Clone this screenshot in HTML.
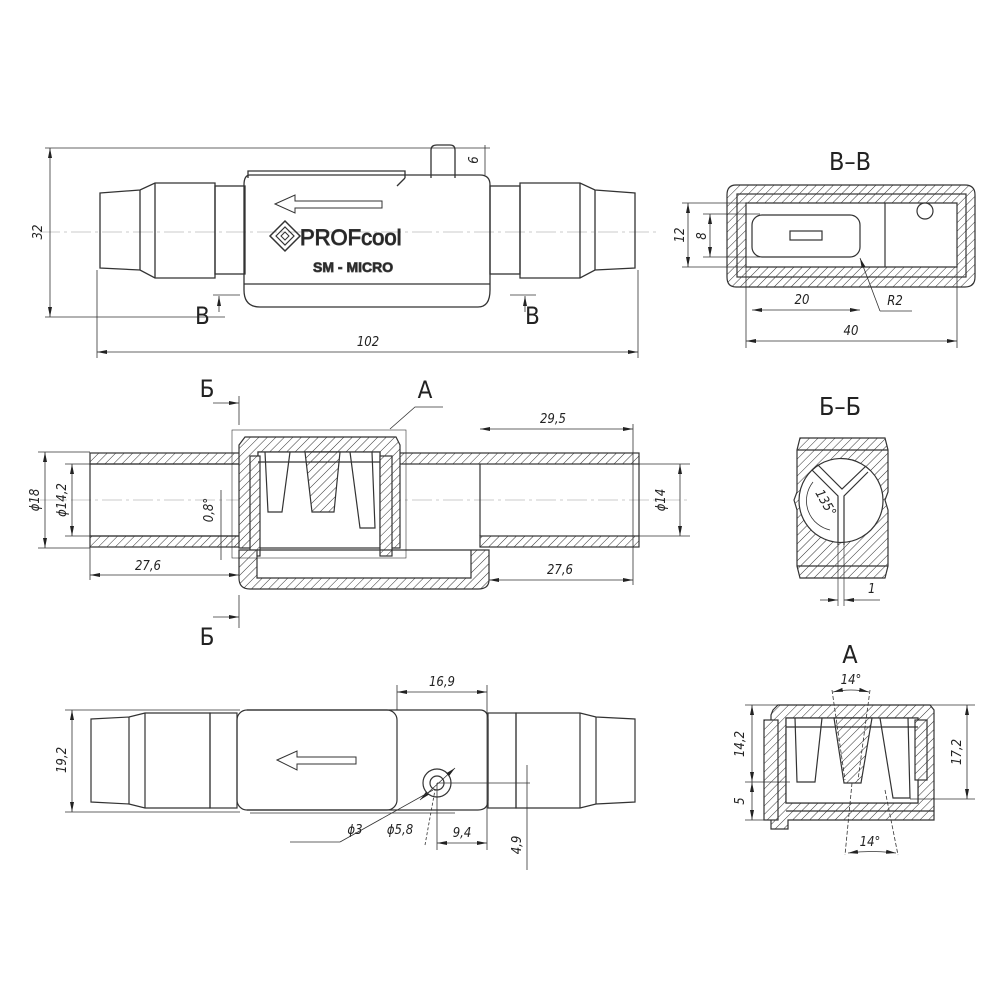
<!DOCTYPE html>
<html><head><meta charset="utf-8"><style>
html,body{margin:0;padding:0;background:#fff}
svg{display:block}
text{font-family:"DejaVu Sans Condensed","Liberation Sans",sans-serif;fill:#222}
.t{font-style:italic;font-size:13px}
</style></head><body>
<svg width="1000" height="1000" viewBox="0 0 1000 1000" xmlns="http://www.w3.org/2000/svg">
<defs>
<pattern id="h" width="6" height="6" patternUnits="userSpaceOnUse" patternTransform="rotate(45)">
<rect width="6" height="6" fill="#fff"/><line x1="0" y1="0" x2="0" y2="6" stroke="#333" stroke-width="1"/>
</pattern>
<marker id="a" markerWidth="10" markerHeight="6" refX="10" refY="3" orient="auto-start-reverse" markerUnits="userSpaceOnUse"><path d="M0,1 L10,3 L0,5z" fill="#222"/></marker>
</defs>
<g fill="none" stroke="#333" stroke-width="1.3">
<!-- ===== TOP VIEW ===== -->
<line x1="40" y1="232" x2="660" y2="232" stroke="#bbb" stroke-width="0.7" stroke-dasharray="20,4,3,4"/>
<path d="M100,193 L140,190 L155,183 L215,183 L215,278 L155,278 L140,270 L100,268 Z"/>
<line x1="140" y1="190" x2="140" y2="270"/><line x1="155" y1="183" x2="155" y2="278"/>
<rect x="215" y="186" width="30" height="88"/>
<path d="M248,178 L248,171 L405,171 L405,178"/>
<path d="M250,175 Q244,175 244,185 L244,290 Q244,307 260,307 L478,307 Q490,307 490,290 L490,185 Q490,175 480,175 Z"/>
<line x1="244" y1="284" x2="490" y2="284"/>
<line x1="397" y1="186" x2="405" y2="178"/>
<path d="M431,178 L431,150 Q431,145 437,145 L450,145 Q455,145 455,150 L455,178"/>
<rect x="490" y="186" width="30" height="88"/>
<path d="M520,183 L580,183 L595,190 L635,193 L635,268 L595,270 L580,278 L520,278 Z"/>
<line x1="580" y1="183" x2="580" y2="278"/><line x1="595" y1="190" x2="595" y2="270"/>
<path d="M275,204 L295,195 L295,201 L382,201 L382,208 L295,208 L295,213 Z" stroke-width="1"/>
<!-- logo -->
<path d="M270,236 L285,221 L300,236 L285,251 Z" stroke-width="1.5"/>
<path d="M276,236 L285,227 L294,236 L285,245 Z" stroke-width="1.2"/>
<path d="M281,236 L285,232 L289,236 L285,240 Z" stroke-width="1"/>
<!-- dims -->
<g stroke-width="0.8">
<line x1="45" y1="148" x2="490" y2="148"/><line x1="45" y1="317" x2="225" y2="317"/>
<line x1="50" y1="148" x2="50" y2="317" marker-start="url(#a)" marker-end="url(#a)"/>
<line x1="97" y1="270" x2="97" y2="358"/><line x1="638" y1="270" x2="638" y2="358"/>
<line x1="97" y1="352" x2="638" y2="352" marker-start="url(#a)" marker-end="url(#a)"/>
<line x1="485" y1="145" x2="485" y2="175"/>
<line x1="213" y1="295" x2="240" y2="295"/><line x1="510" y1="295" x2="536" y2="295"/>
<line x1="219" y1="296" x2="219" y2="312" marker-start="url(#a)"/>
<line x1="525" y1="296" x2="525" y2="312" marker-start="url(#a)"/>
</g>
</g>
<text x="300" y="245" font-size="22" fill="#fff" stroke="#333" stroke-width="1" style="font-family:'Liberation Sans',sans-serif">PROFcool</text>
<text x="313" y="272" font-size="14" font-weight="bold" fill="#fff" stroke="#444" stroke-width="0.8" style="font-family:'Liberation Sans',sans-serif">SM - MICRO</text>
<text class="t" transform="translate(42,232) rotate(-90)" text-anchor="middle">32</text>
<text class="t" x="368" y="346" text-anchor="middle">102</text>
<text class="t" transform="translate(478,160) rotate(-90)" text-anchor="middle">6</text>
<text x="195" y="324" font-size="24" style="font-family:'DejaVu Sans Condensed',sans-serif">B</text>
<text x="525" y="324" font-size="24">B</text>

<!-- ===== B-B ===== -->
<text x="850" y="170" font-size="25" text-anchor="middle">B–B</text>
<g stroke="#333" stroke-width="1.2">
<path fill="url(#h)" fill-rule="evenodd" d="M736,185 L965,185 Q975,185 975,195 L975,277 Q975,287 965,287 L736,287 Q727,287 727,277 L727,195 Q727,185 736,185 Z M746,203 L957,203 L957,267 L746,267 Z"/>
<rect x="737" y="194" width="229" height="83" fill="none"/>
<line x1="885" y1="203" x2="885" y2="267"/>
<circle cx="925" cy="211" r="8" fill="#fff"/>
<rect x="752" y="215" width="108" height="42" rx="10" fill="#fff"/>
<rect x="790" y="231" width="32" height="9" fill="none"/>
</g>
<g fill="none" stroke="#333" stroke-width="0.8">
<line x1="682" y1="203" x2="746" y2="203"/><line x1="682" y1="267" x2="746" y2="267"/>
<line x1="688" y1="203" x2="688" y2="267" marker-start="url(#a)" marker-end="url(#a)"/>
<line x1="703" y1="214" x2="760" y2="214"/><line x1="703" y1="257" x2="760" y2="257"/>
<line x1="710" y1="214" x2="710" y2="257" marker-start="url(#a)" marker-end="url(#a)"/>
<line x1="752" y1="310" x2="860" y2="310" marker-start="url(#a)" marker-end="url(#a)"/>
<line x1="746" y1="267" x2="746" y2="348"/><line x1="957" y1="267" x2="957" y2="348"/>
<line x1="746" y1="341" x2="957" y2="341" marker-start="url(#a)" marker-end="url(#a)"/>
<line x1="880" y1="311" x2="860" y2="258" marker-end="url(#a)"/><line x1="880" y1="311" x2="912" y2="311"/>
</g>
<text class="t" transform="translate(684,235) rotate(-90)" text-anchor="middle">12</text>
<text class="t" transform="translate(706,236) rotate(-90)" text-anchor="middle">8</text>
<text class="t" x="802" y="304" text-anchor="middle">20</text>
<text class="t" x="851" y="335" text-anchor="middle">40</text>
<text class="t" x="895" y="305" text-anchor="middle">R2</text>

<!-- ===== SECTION VIEW ===== -->
<g stroke="#333" stroke-width="1.2">
<line x1="40" y1="500" x2="690" y2="500" stroke="#bbb" stroke-width="0.7" stroke-dasharray="20,4,3,4"/>
<rect x="90" y="453" width="150" height="11" fill="url(#h)"/>
<rect x="90" y="536" width="150" height="11" fill="url(#h)"/>
<rect x="399" y="453" width="240" height="11" fill="url(#h)"/>
<rect x="480" y="536" width="159" height="11" fill="url(#h)"/>
<rect x="90" y="464" width="150" height="72" fill="none"/>
<line x1="480" y1="464" x2="480" y2="536"/>
<line x1="639" y1="464" x2="639" y2="536"/>
<!-- cap -->
<path fill="url(#h)" fill-rule="evenodd" d="M239,445 L245,437 L396,437 L400,445 L400,548 L380,548 L380,452 L258,452 L258,548 L239,548 Z"/>
<rect x="258" y="452" width="122" height="96" fill="#fff"/>
<rect x="250" y="456" width="10" height="100" fill="url(#h)"/>
<rect x="380" y="456" width="12" height="100" fill="url(#h)"/>
<!-- teeth -->
<path fill="url(#h)" d="M305,452 L340,452 L334,512 L312,512 Z"/>
<path d="M265,452 L268,512 L282,512 L290,452" fill="none"/>
<path d="M350,452 L360,528 L375,528 L372,452" fill="none"/>
<line x1="258" y1="462" x2="380" y2="462"/>
<!-- lower box -->
<path fill="url(#h)" fill-rule="evenodd" d="M239,550 L489,550 L489,580 Q489,589 478,589 L250,589 Q239,589 239,578 Z M257,550 L471,550 L471,578 L257,578 Z"/>
<rect x="232" y="430" width="174" height="128" fill="none" stroke-width="0.6"/>
</g>
<g fill="none" stroke="#333" stroke-width="0.8">
<line x1="38" y1="452" x2="90" y2="452"/><line x1="38" y1="548" x2="90" y2="548"/>
<line x1="45" y1="452" x2="45" y2="548" marker-start="url(#a)" marker-end="url(#a)"/>
<line x1="65" y1="464" x2="90" y2="464"/><line x1="65" y1="536" x2="90" y2="536"/>
<line x1="72" y1="464" x2="72" y2="536" marker-start="url(#a)" marker-end="url(#a)"/>
<line x1="639" y1="464" x2="690" y2="464"/><line x1="639" y1="536" x2="690" y2="536"/>
<line x1="680" y1="464" x2="680" y2="536" marker-start="url(#a)" marker-end="url(#a)"/>
<line x1="480" y1="429" x2="633" y2="429" marker-start="url(#a)" marker-end="url(#a)"/>
<line x1="633" y1="424" x2="633" y2="585"/>
<line x1="90" y1="540" x2="90" y2="580"/>
<line x1="90" y1="575" x2="239" y2="575" marker-start="url(#a)" marker-end="url(#a)"/>
<line x1="489" y1="580" x2="633" y2="580" marker-start="url(#a)" marker-end="url(#a)"/>
<line x1="221" y1="490" x2="221" y2="560"/>
<line x1="239" y1="396" x2="239" y2="425"/><line x1="239" y1="595" x2="239" y2="628"/>
<line x1="213" y1="403" x2="239" y2="403" marker-end="url(#a)"/>
<line x1="213" y1="617" x2="239" y2="617" marker-end="url(#a)"/>
<polyline points="390,429 415,407 443,407"/>
</g>
<text x="207" y="397" font-size="24" text-anchor="middle">Б</text>
<text x="207" y="645" font-size="24" text-anchor="middle">Б</text>
<text x="425" y="398" font-size="24" text-anchor="middle">A</text>
<text class="t" x="553" y="423" text-anchor="middle">29,5</text>
<text class="t" x="148" y="570" text-anchor="middle">27,6</text>
<text class="t" x="560" y="574" text-anchor="middle">27,6</text>
<text class="t" transform="translate(39,500) rotate(-90)" text-anchor="middle">ϕ18</text>
<text class="t" transform="translate(66,500) rotate(-90)" text-anchor="middle">ϕ14,2</text>
<text class="t" transform="translate(665,500) rotate(-90)" text-anchor="middle">ϕ14</text>
<text class="t" transform="translate(213,510) rotate(-90)" text-anchor="middle">0,8°</text>

<!-- ===== BOTTOM VIEW ===== -->
<g fill="none" stroke="#333" stroke-width="1.2">
<path d="M91,719 L129,717 L145,713 L210,713 L210,808 L145,808 L129,804 L91,802 Z"/>
<line x1="129" y1="717" x2="129" y2="804"/><line x1="145" y1="713" x2="145" y2="808"/>
<rect x="210" y="713" width="27" height="95"/>
<path d="M247,710 L480,710 Q488,710 488,720 L488,800 Q488,810 478,810 L247,810"/>
<rect x="237" y="710" width="160" height="100" rx="10"/>
<rect x="488" y="713" width="28" height="95"/>
<path d="M516,713 L580,713 L596,717 L635,719 L635,802 L596,804 L580,808 L516,808 Z"/>
<line x1="580" y1="713" x2="580" y2="808"/><line x1="596" y1="717" x2="596" y2="804"/>
<path d="M277,760 L297,751 L297,757 L356,757 L356,764 L297,764 L297,770 Z" stroke-width="1"/>
<circle cx="437" cy="783" r="14"/><circle cx="437" cy="783" r="7"/>
<line x1="250" y1="813" x2="455" y2="813" stroke-width="0.8"/>
</g>
<g fill="none" stroke="#333" stroke-width="0.8">
<line x1="65" y1="710" x2="240" y2="710"/><line x1="65" y1="812" x2="240" y2="812"/>
<line x1="72" y1="710" x2="72" y2="812" marker-start="url(#a)" marker-end="url(#a)"/>
<line x1="397" y1="685" x2="397" y2="710"/><line x1="487" y1="685" x2="487" y2="850"/>
<line x1="397" y1="692" x2="487" y2="692" marker-start="url(#a)" marker-end="url(#a)"/>
<line x1="437" y1="783" x2="437" y2="850"/>
<line x1="437" y1="843" x2="487" y2="843" marker-start="url(#a)" marker-end="url(#a)"/>
<line x1="437" y1="783" x2="530" y2="783"/>
<line x1="527" y1="765" x2="527" y2="870"/>
<line x1="420" y1="800" x2="455" y2="768" marker-start="url(#a)" marker-end="url(#a)"/>
<line x1="340" y1="842" x2="433" y2="790"/><line x1="290" y1="842" x2="340" y2="842"/>
<line x1="425" y1="845" x2="435" y2="790" stroke-dasharray="3,2"/>
</g>
<text class="t" x="442" y="686" text-anchor="middle">16,9</text>
<text class="t" x="462" y="837" text-anchor="middle">9,4</text>
<text class="t" transform="translate(66,760) rotate(-90)" text-anchor="middle">19,2</text>
<text class="t" transform="translate(521,845) rotate(-90)" text-anchor="middle">4,9</text>
<text class="t" x="355" y="834" text-anchor="middle">ϕ3</text>
<text class="t" x="400" y="834" text-anchor="middle">ϕ5,8</text>

<!-- ===== Б-Б ===== -->
<text x="840" y="415" font-size="25" text-anchor="middle">Б–Б</text>
<g stroke="#333" stroke-width="1.2">
<path fill="url(#h)" fill-rule="evenodd" d="M800,438 L885,438 L888,450 L888,492 L885,500 L888,510 L888,566 L885,578 L800,578 L797,566 L797,510 L794,500 L797,492 L797,450 Z M883,500 A42,42 0 1 0 883,501 Z"/>
<line x1="797" y1="450" x2="888" y2="450"/><line x1="797" y1="566" x2="888" y2="566"/>
<path d="M812,470 L838,496 L838,545 M844,545 L844,496 L868,472" fill="none"/>
<path d="M812,470 L818,465 L842,489 L866,466" fill="none"/>
<line x1="838" y1="545" x2="838" y2="606" stroke-width="0.7"/><line x1="844" y1="545" x2="844" y2="606" stroke-width="0.7"/>
<path d="M813,482 A30,30 0 0 0 830,530" fill="none" stroke-width="0.8"/>
<line x1="820" y1="600" x2="838" y2="600" stroke-width="0.8" marker-end="url(#a)"/>
<line x1="860" y1="600" x2="844" y2="600" stroke-width="0.8" marker-end="url(#a)"/>
<line x1="860" y1="600" x2="880" y2="600" stroke-width="0.8"/>
</g>
<text class="t" transform="translate(822,505) rotate(60)" text-anchor="middle">135°</text>
<text class="t" x="868" y="593">1</text>

<!-- ===== A detail ===== -->
<text x="850" y="663" font-size="25" text-anchor="middle">A</text>
<g stroke="#333" stroke-width="1.2">
<path fill="url(#h)" fill-rule="evenodd" d="M773,710 L778,705 L930,705 L934,710 L934,820 L788,820 L788,829 L771,829 L771,820 L771,715 Z M786,718 L918,718 L918,803 L786,803 Z"/>
<rect x="786" y="718" width="132" height="85" fill="#fff"/>
<path fill="url(#h)" d="M834,718 L872,718 L861,783 L844,783 Z"/>
<rect x="764" y="720" width="14" height="100" fill="url(#h)"/>
<rect x="915" y="720" width="12" height="60" fill="url(#h)"/>
<path d="M795,718 L797,782 L815,782 L822,718" fill="none"/>
<path d="M880,718 L893,798 L910,798 L908,718" fill="none"/>
<line x1="786" y1="727" x2="918" y2="727"/>
<line x1="786" y1="811" x2="934" y2="811"/>
</g>
<g fill="none" stroke="#333" stroke-width="0.8">
<line x1="745" y1="705" x2="975" y2="705"/>
<line x1="745" y1="782" x2="790" y2="782"/><line x1="745" y1="820" x2="775" y2="820"/>
<line x1="752" y1="705" x2="752" y2="782" marker-start="url(#a)" marker-end="url(#a)"/>
<line x1="752" y1="782" x2="752" y2="820" marker-start="url(#a)" marker-end="url(#a)"/>
<line x1="910" y1="799" x2="975" y2="799"/>
<line x1="967" y1="705" x2="967" y2="799" marker-start="url(#a)" marker-end="url(#a)"/>
<line x1="832" y1="690" x2="845" y2="780" stroke-dasharray="4,2"/>
<line x1="870" y1="690" x2="858" y2="780" stroke-dasharray="4,2"/>
<line x1="852" y1="783" x2="845" y2="855" stroke-dasharray="4,2"/>
<line x1="885" y1="790" x2="898" y2="855" stroke-dasharray="4,2"/>
<path d="M833,692 Q851,688 869,692" marker-start="url(#a)" marker-end="url(#a)"/>
<path d="M848,853 Q872,850 896,853" marker-start="url(#a)" marker-end="url(#a)"/>
</g>
<text class="t" x="851" y="684" text-anchor="middle">14°</text>
<text class="t" x="870" y="846" text-anchor="middle">14°</text>
<text class="t" transform="translate(744,744) rotate(-90)" text-anchor="middle">14,2</text>
<text class="t" transform="translate(744,801) rotate(-90)" text-anchor="middle">5</text>
<text class="t" transform="translate(961,752) rotate(-90)" text-anchor="middle">17,2</text>
</svg>
</body></html>
